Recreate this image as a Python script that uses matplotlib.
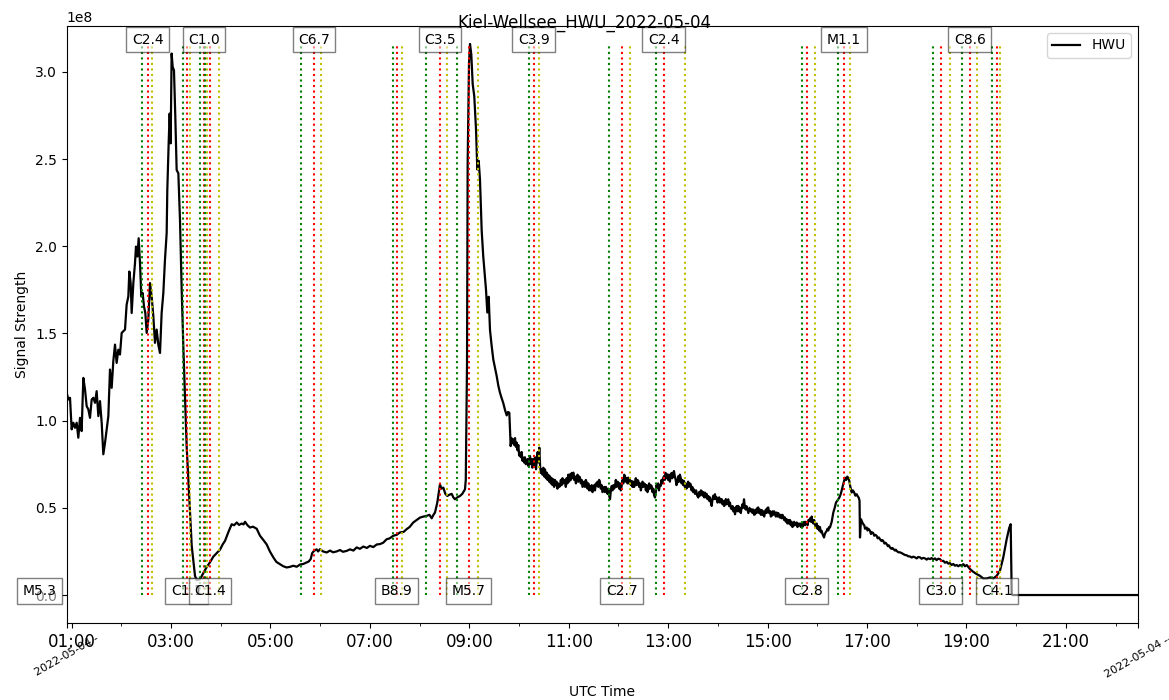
import matplotlib
matplotlib.use("Agg")
import matplotlib.pyplot as plt
import numpy as np

# ---------------- data ----------------
title = "Kiel-Wellsee_HWU_2022-05-04"
series_name = "HWU"
date_label_left = "2022-05-04 -"
date_label_right = "2022-05-04 --"

# (decimal hour UTC, signal in units of 1e8)
early_morning = [
    (0.903, 1.160), (0.936, 1.121), (0.970, 1.131), (1.003, 0.950), (1.037, 0.988),
    (1.070, 0.959), (1.104, 0.988), (1.137, 0.902), (1.171, 1.016), (1.204, 0.940),
    (1.238, 1.245), (1.272, 1.178), (1.305, 1.083), (1.339, 1.064), (1.372, 1.016),
    (1.406, 1.121), (1.439, 1.131), (1.473, 1.102), (1.506, 1.169), (1.540, 1.026),
    (1.573, 1.112), (1.607, 0.988), (1.640, 0.807), (1.674, 0.873), (1.707, 0.950),
    (1.741, 1.026), (1.774, 1.293), (1.808, 1.188), (1.841, 1.341), (1.875, 1.436),
    (1.908, 1.331), (1.942, 1.407), (1.975, 1.379), (2.009, 1.503), (2.042, 1.512),
    (2.076, 1.522), (2.109, 1.665), (2.143, 1.712), (2.163, 1.855), (2.190, 1.789),
    (2.210, 1.617), (2.244, 1.789), (2.277, 1.903), (2.297, 1.998), (2.324, 1.941),
    (2.351, 2.046), (2.378, 1.903), (2.404, 1.712), (2.431, 1.732), (2.458, 1.655),
    (2.485, 1.617), (2.512, 1.503), (2.545, 1.579), (2.579, 1.789), (2.612, 1.712),
    (2.646, 1.598), (2.679, 1.446), (2.713, 1.522), (2.746, 1.436), (2.780, 1.388),
    (2.813, 1.617), (2.847, 1.732), (2.880, 1.922), (2.914, 2.075), (2.927, 2.323),
    (2.954, 2.590), (2.974, 2.761), (2.994, 2.590), (3.014, 3.105), (3.035, 3.028),
    (3.061, 3.009), (3.088, 2.742), (3.115, 2.437), (3.149, 2.418), (3.182, 2.151),
    (3.216, 1.751), (3.249, 1.426), (3.283, 1.140), (3.316, 0.854), (3.350, 0.664),
    (3.418, 0.282), (3.484, 0.110), (3.518, 0.085), (3.584, 0.090), (3.650, 0.125),
    (3.719, 0.160), (3.790, 0.190), (3.852, 0.220), (3.920, 0.240), (3.987, 0.260),
    (4.040, 0.290), (4.087, 0.310), (4.154, 0.360), (4.222, 0.406), (4.270, 0.400),
    (4.323, 0.416), (4.370, 0.402), (4.423, 0.410), (4.460, 0.405), (4.490, 0.420),
    (4.540, 0.400), (4.590, 0.387), (4.650, 0.392), (4.725, 0.380), (4.791, 0.340),
    (4.860, 0.315), (4.926, 0.290), (4.990, 0.250), (5.059, 0.216), (5.120, 0.190),
    (5.193, 0.177), (5.260, 0.165), (5.328, 0.158), (5.400, 0.162), (5.461, 0.168),
    (5.530, 0.162), (5.596, 0.175), (5.660, 0.178), (5.730, 0.187), (5.770, 0.192),
    (5.811, 0.206), (5.840, 0.240), (5.877, 0.253), (5.930, 0.262), (5.960, 0.250),
    (5.998, 0.263), (6.060, 0.250), (6.133, 0.244), (6.200, 0.255), (6.260, 0.245),
    (6.334, 0.250), (6.400, 0.258), (6.460, 0.248), (6.535, 0.253), (6.600, 0.262),
    (6.670, 0.255), (6.736, 0.273), (6.800, 0.265), (6.870, 0.278), (6.940, 0.270),
    (7.003, 0.282), (7.070, 0.275), (7.140, 0.290), (7.204, 0.292), (7.270, 0.300),
    (7.339, 0.320), (7.400, 0.325), (7.472, 0.340), (7.540, 0.345), (7.607, 0.359),
    (7.680, 0.362), (7.742, 0.378), (7.800, 0.390), (7.874, 0.416), (7.940, 0.430),
    (8.009, 0.444), (8.080, 0.450), (8.144, 0.454), (8.200, 0.460), (8.245, 0.440),
    (8.280, 0.460), (8.311, 0.473), (8.357, 0.530), (8.411, 0.635), (8.440, 0.610),
    (8.478, 0.616), (8.520, 0.580), (8.558, 0.568), (8.600, 0.575), (8.647, 0.580),
    (8.680, 0.560), (8.713, 0.549), (8.760, 0.560), (8.813, 0.568), (8.860, 0.580),
    (8.914, 0.606), (8.930, 0.660),
]
m57_flare = [
    (8.955, 1.330), (8.968, 2.480), (8.995, 3.050), (9.015, 3.160), (9.041, 3.100),
    (9.069, 2.930), (9.101, 2.860), (9.136, 2.670), (9.162, 2.440), (9.190, 2.490),
    (9.216, 2.380), (9.250, 2.090), (9.282, 1.940), (9.337, 1.750), (9.363, 1.620),
    (9.391, 1.710), (9.417, 1.520), (9.450, 1.430), (9.484, 1.350), (9.520, 1.300),
    (9.552, 1.255), (9.585, 1.200), (9.618, 1.160), (9.650, 1.130), (9.685, 1.100),
    (9.720, 1.060), (9.753, 1.030), (9.780, 1.050), (9.806, 1.045), (9.820, 0.950),
    (9.833, 0.854), (9.850, 0.900), (9.866, 0.870), (9.886, 0.892), (9.905, 0.860),
    (9.920, 0.900), (9.937, 0.850), (9.954, 0.874), (9.970, 0.830), (9.987, 0.860),
    (10.004, 0.800), (10.021, 0.816), (10.038, 0.790), (10.054, 0.820), (10.070, 0.770),
    (10.087, 0.788), (10.104, 0.760), (10.120, 0.790), (10.138, 0.750), (10.155, 0.759),
    (10.172, 0.780), (10.188, 0.740), (10.205, 0.770), (10.222, 0.797), (10.238, 0.750),
    (10.255, 0.780), (10.271, 0.730), (10.288, 0.778), (10.305, 0.740), (10.322, 0.790),
    (10.343, 0.721), (10.360, 0.780), (10.376, 0.820), (10.392, 0.760), (10.409, 0.845),
    (10.425, 0.740), (10.441, 0.700), (10.457, 0.721), (10.474, 0.690), (10.491, 0.730),
    (10.507, 0.680), (10.524, 0.720), (10.541, 0.670), (10.558, 0.702), (10.575, 0.660),
    (10.591, 0.690), (10.608, 0.650), (10.625, 0.680), (10.641, 0.640), (10.658, 0.670),
    (10.674, 0.630), (10.690, 0.664), (10.707, 0.620), (10.724, 0.660), (10.740, 0.630),
    (10.757, 0.650), (10.774, 0.610), (10.791, 0.640), (10.808, 0.620), (10.825, 0.625),
    (10.842, 0.660), (10.858, 0.630), (10.875, 0.670), (10.891, 0.640), (10.908, 0.660),
    (10.925, 0.654), (10.942, 0.620), (10.958, 0.670), (10.975, 0.640), (10.992, 0.690),
]
midday = [
    (11.009, 0.650), (11.026, 0.692), (11.043, 0.660), (11.060, 0.700), (11.077, 0.670),
    (11.093, 0.702), (11.110, 0.660), (11.127, 0.680), (11.144, 0.640), (11.161, 0.654),
    (11.178, 0.690), (11.194, 0.650), (11.211, 0.680), (11.227, 0.673), (11.244, 0.640),
    (11.261, 0.660), (11.278, 0.620), (11.294, 0.625), (11.311, 0.650), (11.328, 0.620),
    (11.345, 0.660), (11.362, 0.645), (11.379, 0.610), (11.395, 0.640), (11.412, 0.600),
    (11.429, 0.625), (11.446, 0.600), (11.462, 0.630), (11.479, 0.590), (11.495, 0.606),
    (11.512, 0.630), (11.529, 0.600), (11.546, 0.640), (11.563, 0.625), (11.580, 0.650),
    (11.596, 0.620), (11.613, 0.660), (11.629, 0.645), (11.646, 0.610), (11.663, 0.630),
    (11.680, 0.590), (11.696, 0.597), (11.713, 0.620), (11.730, 0.590), (11.747, 0.620),
    (11.764, 0.606), (11.781, 0.580), (11.797, 0.610), (11.814, 0.570), (11.831, 0.549),
    (11.848, 0.600), (11.865, 0.625), (11.881, 0.600), (11.898, 0.630), (11.915, 0.610),
    (11.931, 0.625), (11.948, 0.660), (11.965, 0.620), (11.982, 0.650), (11.998, 0.645),
    (12.015, 0.610), (12.032, 0.640), (12.049, 0.600), (12.066, 0.625), (12.083, 0.660),
    (12.099, 0.640), (12.116, 0.690), (12.132, 0.682), (12.149, 0.650), (12.166, 0.670),
    (12.183, 0.640), (12.199, 0.673), (12.216, 0.640), (12.233, 0.660), (12.250, 0.630),
    (12.267, 0.654), (12.284, 0.620), (12.300, 0.650), (12.317, 0.620), (12.333, 0.645),
    (12.350, 0.670), (12.367, 0.630), (12.384, 0.660), (12.400, 0.654), (12.417, 0.620),
    (12.434, 0.640), (12.451, 0.600), (12.468, 0.625), (12.485, 0.650), (12.501, 0.620),
    (12.518, 0.640), (12.535, 0.635), (12.552, 0.600), (12.568, 0.630), (12.585, 0.590),
    (12.601, 0.606), (12.618, 0.640), (12.635, 0.610), (12.652, 0.630), (12.669, 0.625),
    (12.686, 0.590), (12.702, 0.610), (12.719, 0.570), (12.736, 0.559), (12.752, 0.590),
    (12.766, 0.630), (12.782, 0.616), (12.800, 0.640), (12.816, 0.600), (12.833, 0.630),
    (12.850, 0.625), (12.867, 0.660), (12.884, 0.640), (12.900, 0.670), (12.917, 0.682),
    (12.934, 0.660), (12.950, 0.700), (12.967, 0.670), (12.983, 0.692), (13.000, 0.660),
    (13.018, 0.690), (13.035, 0.650), (13.052, 0.682), (13.068, 0.700), (13.085, 0.670),
    (13.102, 0.700), (13.118, 0.711), (13.135, 0.680), (13.152, 0.660), (13.168, 0.630),
    (13.184, 0.645), (13.201, 0.680), (13.218, 0.650), (13.236, 0.690), (13.253, 0.673),
    (13.270, 0.640), (13.286, 0.660), (13.303, 0.630), (13.319, 0.654), (13.336, 0.620),
    (13.352, 0.640), (13.369, 0.610), (13.385, 0.625), (13.402, 0.650), (13.419, 0.620),
    (13.436, 0.640), (13.454, 0.635), (13.470, 0.600), (13.487, 0.620), (13.503, 0.590),
    (13.520, 0.606), (13.540, 0.580), (13.563, 0.600), (13.585, 0.570), (13.606, 0.559),
    (13.623, 0.590), (13.640, 0.570), (13.658, 0.600), (13.675, 0.597), (13.692, 0.570),
    (13.708, 0.590), (13.725, 0.560), (13.741, 0.587), (13.758, 0.560), (13.775, 0.580),
    (13.791, 0.550), (13.808, 0.568), (13.825, 0.540), (13.842, 0.560), (13.859, 0.530),
    (13.876, 0.511), (13.893, 0.550), (13.909, 0.570), (13.926, 0.550), (13.942, 0.578),
    (13.959, 0.550), (13.976, 0.560), (13.992, 0.530), (14.009, 0.540), (14.026, 0.560),
    (14.043, 0.530), (14.060, 0.550), (14.077, 0.550), (14.094, 0.520), (14.110, 0.540),
    (14.127, 0.510), (14.143, 0.521), (14.160, 0.550), (14.177, 0.520), (14.193, 0.540),
    (14.210, 0.549), (14.227, 0.510), (14.244, 0.530), (14.261, 0.500), (14.278, 0.492),
    (14.295, 0.510), (14.311, 0.480), (14.328, 0.500), (14.345, 0.463), (14.362, 0.490),
    (14.378, 0.510), (14.395, 0.480), (14.411, 0.511), (14.428, 0.480), (14.445, 0.500),
    (14.462, 0.470), (14.479, 0.502), (14.495, 0.520), (14.510, 0.500), (14.526, 0.549),
    (14.542, 0.510), (14.559, 0.490), (14.575, 0.510), (14.592, 0.492), (14.614, 0.470),
    (14.636, 0.500), (14.658, 0.480), (14.681, 0.492), (14.697, 0.470), (14.714, 0.490),
    (14.730, 0.460), (14.747, 0.463), (14.764, 0.490), (14.780, 0.470), (14.797, 0.500),
    (14.813, 0.502), (14.830, 0.470), (14.847, 0.490), (14.865, 0.460), (14.882, 0.488),
    (14.898, 0.460), (14.915, 0.480), (14.931, 0.450), (14.948, 0.473), (14.965, 0.490),
    (14.981, 0.470), (14.998, 0.500), (15.014, 0.502), (15.031, 0.470), (15.048, 0.482),
]
afternoon = [
    (15.066, 0.450), (15.083, 0.454), (15.100, 0.480), (15.116, 0.460), (15.132, 0.480),
    (15.149, 0.470), (15.166, 0.450), (15.183, 0.473), (15.200, 0.450), (15.216, 0.470),
    (15.232, 0.450), (15.249, 0.444), (15.266, 0.460), (15.283, 0.440), (15.300, 0.460),
    (15.316, 0.450), (15.333, 0.430), (15.350, 0.445), (15.367, 0.420), (15.384, 0.435),
    (15.400, 0.410), (15.417, 0.430), (15.434, 0.410), (15.451, 0.430), (15.468, 0.400),
    (15.484, 0.420), (15.500, 0.390), (15.517, 0.396), (15.534, 0.420), (15.550, 0.400),
    (15.568, 0.410), (15.586, 0.416), (15.602, 0.390), (15.619, 0.410), (15.635, 0.400),
    (15.652, 0.410), (15.669, 0.390), (15.685, 0.410), (15.702, 0.390), (15.718, 0.406),
    (15.735, 0.420), (15.752, 0.400), (15.770, 0.420), (15.787, 0.416), (15.805, 0.400),
    (15.822, 0.430), (15.839, 0.425), (15.855, 0.440), (15.871, 0.420), (15.887, 0.450),
    (15.903, 0.420), (15.920, 0.410), (15.937, 0.430), (15.954, 0.406), (15.970, 0.390),
    (15.987, 0.410), (16.004, 0.380), (16.020, 0.396), (16.037, 0.370), (16.054, 0.390),
    (16.071, 0.360), (16.089, 0.368), (16.105, 0.350), (16.120, 0.340), (16.135, 0.330),
    (16.152, 0.350), (16.170, 0.360), (16.189, 0.368), (16.205, 0.380), (16.222, 0.370),
    (16.238, 0.390), (16.255, 0.387), (16.290, 0.420), (16.322, 0.473), (16.350, 0.500),
    (16.376, 0.530), (16.400, 0.540), (16.422, 0.549), (16.445, 0.560), (16.471, 0.578),
    (16.490, 0.600), (16.511, 0.625), (16.535, 0.650), (16.557, 0.673), (16.580, 0.660),
    (16.604, 0.679), (16.625, 0.670), (16.644, 0.654), (16.665, 0.620), (16.692, 0.588),
    (16.715, 0.600), (16.738, 0.591), (16.765, 0.570), (16.793, 0.578), (16.815, 0.565),
    (16.833, 0.559), (16.850, 0.540), (16.859, 0.330), (16.879, 0.435), (16.900, 0.420),
    (16.925, 0.406), (16.945, 0.400), (16.960, 0.380), (16.994, 0.387), (17.010, 0.370),
    (17.030, 0.380), (17.060, 0.368), (17.080, 0.350), (17.100, 0.360), (17.126, 0.355),
    (17.145, 0.340), (17.170, 0.345), (17.195, 0.339), (17.215, 0.325), (17.240, 0.330),
    (17.261, 0.320), (17.290, 0.310), (17.310, 0.315), (17.327, 0.310), (17.350, 0.295),
    (17.375, 0.300), (17.396, 0.292), (17.420, 0.280), (17.440, 0.285), (17.462, 0.273),
    (17.490, 0.265), (17.510, 0.270), (17.528, 0.265), (17.560, 0.255), (17.580, 0.260),
    (17.597, 0.253), (17.630, 0.245), (17.663, 0.245), (17.700, 0.240), (17.730, 0.235),
    (17.760, 0.230), (17.798, 0.228), (17.830, 0.222), (17.865, 0.221), (17.900, 0.215),
    (17.930, 0.220), (17.966, 0.216), (18.000, 0.210), (18.030, 0.218), (18.066, 0.216),
    (18.100, 0.208), (18.130, 0.213), (18.167, 0.210), (18.200, 0.203), (18.230, 0.210),
    (18.267, 0.206), (18.300, 0.212), (18.330, 0.204), (18.368, 0.210), (18.400, 0.200),
    (18.430, 0.208), (18.469, 0.206), (18.500, 0.195), (18.535, 0.196), (18.570, 0.185),
    (18.603, 0.190), (18.635, 0.180), (18.669, 0.183), (18.700, 0.172), (18.736, 0.178),
    (18.770, 0.168), (18.804, 0.172), (18.835, 0.165), (18.870, 0.172), (18.900, 0.168),
    (18.937, 0.177), (18.970, 0.165), (19.005, 0.172), (19.040, 0.160), (19.071, 0.149),
    (19.137, 0.133), (19.206, 0.120), (19.272, 0.110), (19.338, 0.095), (19.407, 0.095),
    (19.473, 0.101), (19.540, 0.095), (19.608, 0.110), (19.674, 0.139), (19.741, 0.216),
    (19.809, 0.320), (19.862, 0.387), (19.890, 0.406), (19.910, 0.006), (19.930, 0.000),
    (22.450, 0.000),
]

# flares: class, start / peak / end (decimal hours UTC)
flare_class = ["M5.3", "C2.4", "C1.1", "C1.0", "C1.4", "C6.7", "B8.9", "C3.5", "M5.7",
               "C3.9", "C2.7", "C2.4", "C2.8", "M1.1", "C3.0", "C8.6", "C4.1"]
flare_start = [0.17, 2.412, 3.237, 3.584, 3.695, 5.610, 7.460, 8.124, 8.747,
               10.202, 11.804, 12.756, 15.692, 16.416, 18.327, 18.910, 19.514]
flare_peak = [0.35, 2.533, 3.317, 3.665, 3.786, 5.877, 7.541, 8.411, 8.989,
              10.296, 12.066, 12.911, 15.787, 16.537, 18.482, 19.071, 19.614]
flare_end = [0.50, 2.613, 3.383, 3.725, 3.961, 6.012, 7.647, 8.546, 9.176,
             10.403, 12.227, 13.339, 15.948, 16.658, 18.669, 19.212, 19.675]

major_hours = [1, 3, 5, 7, 9, 11, 13, 15, 17, 19, 21]
major_labels = ["01:00", "03:00", "05:00", "07:00", "09:00", "11:00",
                "13:00", "15:00", "17:00", "19:00", "21:00"]
minor_hours = [2, 4, 6, 8, 10, 12, 14, 16, 18, 20, 22]
x_range = (0.9035, 22.45)
y_range = (-0.162, 3.263)

# ---------------- plot ----------------
scale = 1e8
points = early_morning + m57_flare + midday + afternoon
t = np.array([p[0] for p in points])
s = np.array([p[1] for p in points]) * scale

fig = plt.figure(figsize=(11.69, 7.0), dpi=100)
ax = fig.add_axes([0.05706, 0.1096, 0.9164, 0.8533])

ax.plot(t, s, color="black", lw=1.6, label=series_name)

ymax = s.max()
for i, cls in enumerate(flare_class):
    ax.vlines(flare_start[i], 0, ymax, colors="g", linestyles=":")
    ax.vlines(flare_peak[i], 0, ymax, colors="r", linestyles=":")
    ax.vlines(flare_end[i], 0, ymax, colors="y", linestyles=":")
    ypos = 0 if i % 2 == 0 else ymax
    ax.text(flare_peak[i], ypos, cls, ha="center", fontsize=10,
            bbox=dict(facecolor="white", alpha=0.5))

ax.set_xlim(*x_range)
ax.set_ylim(y_range[0] * scale, y_range[1] * scale)

ticks = [x_range[0]] + major_hours + [x_range[1]]
labels = [date_label_left] + major_labels + [date_label_right]
ax.set_xticks(ticks)
ax.set_xticklabels(labels)
ax.set_xticks(minor_hours, minor=True)
tl = ax.get_xticklabels()
for lab in tl[1:-1]:
    lab.set_fontsize(12)
for lab in (tl[0], tl[-1]):
    lab.set_fontsize(8)
    lab.set_rotation(30)

ax.set_xlabel("UTC Time")
ax.set_ylabel("Signal Strength")
ax.legend(loc="upper right")
fig.suptitle(title)

fig.savefig("out.png", dpi=100)
